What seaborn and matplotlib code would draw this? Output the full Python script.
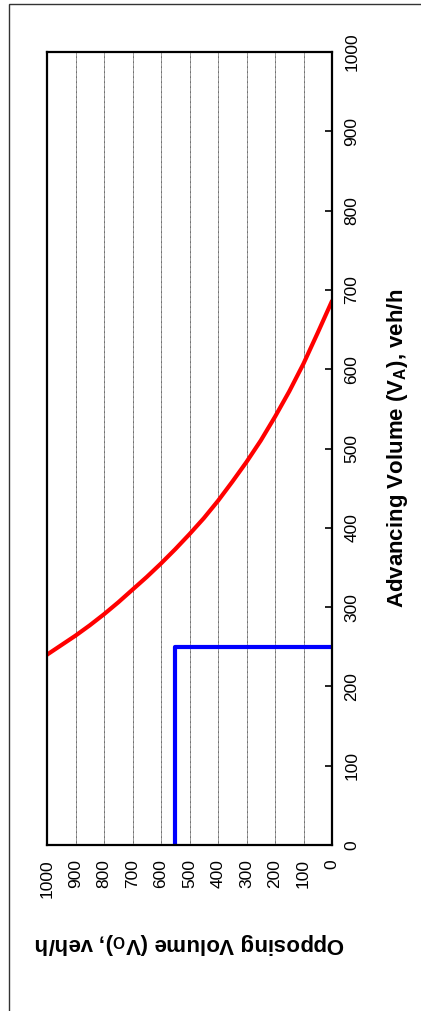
import matplotlib
matplotlib.use("Agg")
import matplotlib.pyplot as plt
import seaborn as sns
import pandas as pd
from matplotlib.patches import Rectangle

# Data
opposing_volume = [0, 50, 100, 150, 200, 250, 300, 350, 400, 450, 500,
                   550, 600, 650, 700, 750, 800, 850, 900, 950, 1000]
advancing_volume = [686, 646, 607, 572, 540, 510, 483, 458, 434, 412, 392,
                    373, 355, 338, 322, 306, 291, 277, 264, 252, 240]
blue_opposing = [550, 550, 0]
blue_advancing = [0, 250, 250]
tick_values = [0, 100, 200, 300, 400, 500, 600, 700, 800, 900, 1000]

sns.set_theme(style="white")
plt.rcParams['font.family'] = ['Liberation Sans', 'DejaVu Sans']
plt.rcParams['mathtext.fontset'] = 'custom'
plt.rcParams['mathtext.rm'] = 'Liberation Sans'
plt.rcParams['mathtext.bf'] = 'Liberation Sans:bold'
plt.rcParams['text.color'] = 'black'
plt.rcParams['axes.labelcolor'] = 'black'
plt.rcParams['xtick.color'] = 'black'
plt.rcParams['ytick.color'] = 'black'

fig = plt.figure(figsize=(4.21, 10.11), dpi=100)
ax = fig.add_axes([47 / 421, 1 - 845 / 1011, 285 / 421, 793 / 1011])

curve = pd.DataFrame({"opp": opposing_volume, "adv": advancing_volume})
blue = pd.DataFrame({"opp": blue_opposing, "adv": blue_advancing})

sns.lineplot(data=curve, x="opp", y="adv", ax=ax, color="#ff0000", lw=3,
             sort=False, estimator=None)
sns.lineplot(data=blue, x="opp", y="adv", ax=ax, color="#0000ff", lw=3,
             sort=False, estimator=None)

ax.set_xlim(1000, 0)
ax.set_ylim(0, 1000)
ax.set_xticks(tick_values)
ax.set_yticks(tick_values)
ax.set_xticklabels([str(v) for v in tick_values], rotation=90, fontsize=12.5)
ax.set_yticklabels([str(v) for v in tick_values], rotation=90, fontsize=12.5, va='center')

ax.yaxis.tick_right()
ax.yaxis.set_label_position("right")
ax.tick_params(axis='y', direction='in', length=5, width=1.2, color='black', pad=9,
               right=True, left=False, labelcolor='black')
ax.tick_params(axis='x', direction='in', length=0, pad=10, bottom=True, labelcolor='black')

ax.grid(True, axis='x', color='#333333', lw=0.6, ls=(0, (1, 0.5)))
ax.set_axisbelow(True)

for s in ax.spines.values():
    s.set_color('black')
    s.set_linewidth(1.6)

ax.set_xlabel(r'Opposing Volume (V$_{\mathbf{O}}$), veh/h', fontsize=16, fontweight='bold',
              rotation=180, labelpad=24, color='black')
ax.set_ylabel(r'Advancing Volume (V$_{\mathbf{A}}$), veh/h', fontsize=16, fontweight='bold',
              rotation=90, labelpad=18, color='black')

fig.patches.append(Rectangle((9 / 421, -0.05), 1.2, 1.05 - 3.5 / 1011, transform=fig.transFigure,
                             fill=False, edgecolor='#333333', lw=1))

fig.savefig("out.png", dpi=100)
